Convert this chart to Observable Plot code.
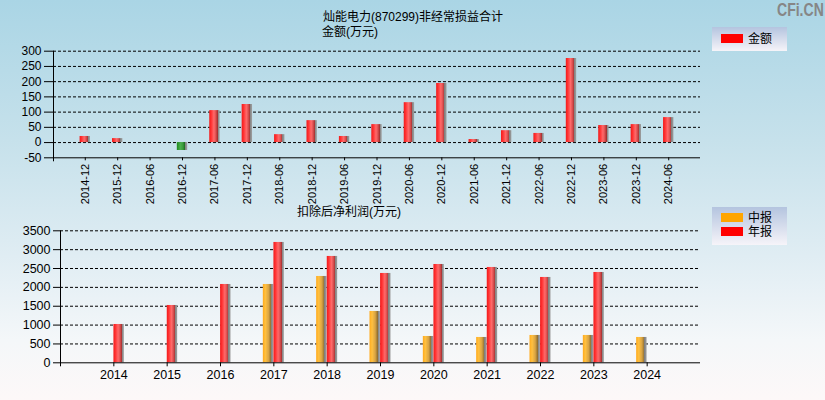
<!DOCTYPE html>
<html><head><meta charset="utf-8">
<script src="https://cdn.jsdelivr.net/npm/d3@7"></script>
<script src="https://cdn.jsdelivr.net/npm/@observablehq/plot@0.6"></script>
<style>
html,body{margin:0;padding:0;}
#wrap{position:relative;width:825px;height:400px;overflow:hidden;
 background:linear-gradient(to bottom,#aad5e5 0%,#c6e1eb 35%,#dcebf2 60%,#f4f7f9 85%,#fdf8f8 100%);
 font-family:"Liberation Sans",Arial,"Noto Sans CJK SC",sans-serif;color:#000;}
.abs{position:absolute;}
.t{font-size:12px;white-space:nowrap;line-height:14px;}
.legend{position:absolute;left:712px;width:75px;background:linear-gradient(to bottom,#b4c4df,#f6f4f9);}
.sw{position:absolute;left:9px;width:22px;height:9px;}
.lt{position:absolute;left:36px;font-size:12px;line-height:12px;height:12px;font-family:"Liberation Sans","Noto Sans CJK SC",sans-serif;}
#wm{position:absolute;left:777px;top:0px;font-size:18px;font-weight:bold;color:#868686;transform:scaleX(0.78);transform-origin:left top;letter-spacing:0px;}
</style></head>
<body>
<div id="wrap">
  <div id="topc" class="abs" style="left:0;top:0"></div>
  <div id="botc" class="abs" style="left:0;top:205px"></div>
  <div class="abs t" style="left:323px;top:10px;">灿能电力(870299)非经常损益合计</div>
  <div class="abs t" style="left:322px;top:25px;">金额(万元)</div>
  <div class="abs t" style="left:297px;top:205px;">扣除后净利润(万元)</div>
  <div id="wm">CFi.CN</div>
  <div class="legend" style="top:27px;height:24px;">
    <div class="sw" style="top:7px;background:#ff0000"></div><div class="lt" style="top:6px">金额</div>
  </div>
  <div class="legend" style="top:207px;height:38px;">
    <div class="sw" style="top:6px;background:#ffa500"></div><div class="lt" style="top:5px">中报</div>
    <div class="sw" style="top:20px;background:#ff0000"></div><div class="lt" style="top:19px">年报</div>
  </div>
</div>
<script>
// ---- data ----
const periods = ["2014-12","2015-12","2016-06","2016-12","2017-06","2017-12","2018-06","2018-12","2019-06","2019-12","2020-06","2020-12","2021-06","2021-12","2022-06","2022-12","2023-06","2023-12","2024-06"];
const amounts = [20,13,null,-26,105,125,26,72,20,59,131,194,10,39,30,276,56,59,82];
const years = ["2014","2015","2016","2017","2018","2019","2020","2021","2022","2023","2024"];
const interim = [null,null,null,2077,2289,1361,698,672,725,725,672];
const annual = [1016,1520,2077,3191,2820,2369,2607,2528,2263,2395,null];
const topTicks = [-50,0,50,100,150,200,250,300];
const botTicks = [0,500,1000,1500,2000,2500,3000,3500];

const topData = periods.map((p,i)=>({period:p, value:amounts[i]}));
const botData = years.map((y,i)=>({year:y, interim:interim[i], annual:annual[i]}));

function defs(prefix){
  return () => {
    const ns = "http://www.w3.org/2000/svg";
    const d = document.createElementNS(ns,"defs");
    const mk = (id, stops) => {
      const g = document.createElementNS(ns,"linearGradient");
      g.setAttribute("id", prefix+id);
      g.setAttribute("x1","0"); g.setAttribute("x2","1"); g.setAttribute("y1","0"); g.setAttribute("y2","0");
      for (const [o,c] of stops){ const s=document.createElementNS(ns,"stop"); s.setAttribute("offset",o); s.setAttribute("stop-color",c); g.appendChild(s);}
      d.appendChild(g);
    };
    mk("red", [[0,"#f01c1c"],[0.18,"#ff3030"],[0.45,"#ff6a6a"],[0.62,"#e05252"],[0.8,"#a83232"],[0.8,"#808080"],[1,"#a0a0a0"]]);
    mk("green", [[0,"#1e8a1e"],[0.35,"#4caf4c"],[0.6,"#3a9a3a"],[0.8,"#1c641c"],[0.8,"#808080"],[1,"#a0a0a0"]]);
    mk("orange", [[0,"#ffaa1c"],[0.25,"#ffc040"],[0.55,"#d9a444"],[0.8,"#8c6a2c"],[0.8,"#808080"],[1,"#a0a0a0"]]);
    return d;
  };
}

const font = "'Liberation Sans', Arial, sans-serif";

const topChart = Plot.plot({
  width: 825, height: 205,
  marginTop: 50.7, marginBottom: 47.7, marginLeft: 53, marginRight: 125,
  style: {background:"transparent", fontFamily: font, fontSize:"12px", color:"#000", overflow:"visible"},
  x: {type:"band", domain: periods, paddingInner: 0.68, paddingOuter: 0.82, round: false, label:null},
  y: {domain:[-50,300], label:null},
  marks: [
    defs("t"),
    Plot.ruleY(topTicks.filter(d=>d>-50), {stroke:"#000", strokeDasharray:"3,2"}),
    Plot.barY(topData.filter(d=>d.value>0), {x:"period", y:"value", fill:"url(#tred)"}),
    Plot.barY(topData.filter(d=>d.value<0), {x:"period", y:"value", fill:"url(#tgreen)"}),
    Plot.ruleY([-50], {stroke:"#000"}),
    Plot.frame({anchor:"left", insetBottom:-3}),
    Plot.axisY({ticks: topTicks, tickSize: 9, tickPadding: 3, fontSize: 12, tickFormat: d => String(d), label:null}),
    Plot.axisX({tickRotate:-90, tickSize:3, tickPadding:3, fontSize: 11, label:null})
  ]
});
document.getElementById("topc").appendChild(topChart);

const botChart = Plot.plot({
  width: 825, height: 195,
  marginTop: 25.3, marginBottom: 37.7, marginLeft: 60, marginRight: 125,
  style: {background:"transparent", fontFamily: font, fontSize:"12.5px", color:"#000", overflow:"visible"},
  x: {type:"band", domain: years, paddingInner: 0.606, paddingOuter: 0.803, round: false, label:null},
  y: {domain:[0,3500], label:null},
  marks: [
    defs("b"),
    Plot.ruleY(botTicks.filter(d=>d>0), {stroke:"#000", strokeDasharray:"3,2"}),
    Plot.barY(botData.filter(d=>d.interim!=null), {x:"year", y:"interim", fill:"url(#borange)", insetRight: 10.6}),
    Plot.barY(botData.filter(d=>d.annual!=null), {x:"year", y:"annual", fill:"url(#bred)", insetLeft: 10.6}),
    Plot.ruleY([0], {stroke:"#000"}),
    Plot.frame({anchor:"left", insetBottom:-3}),
    Plot.axisY({ticks: botTicks, tickSize: 7, tickPadding: 3, fontSize: 12.5, tickFormat: d => String(d), label:null}),
    Plot.axisX({tickSize:4, tickPadding:3, fontSize: 12.5, label:null})
  ]
});
document.getElementById("botc").appendChild(botChart);
</script>
</body></html>
